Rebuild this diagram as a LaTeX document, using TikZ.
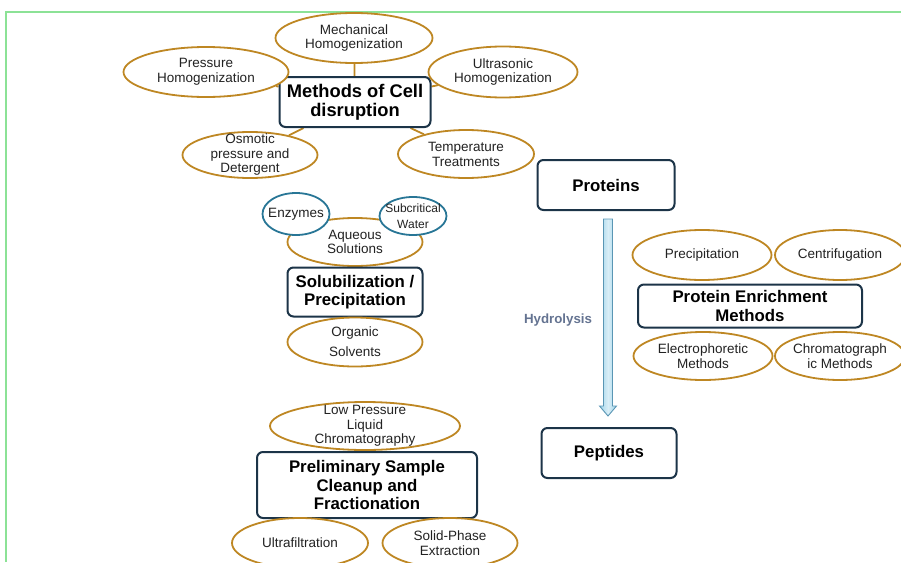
\documentclass[tikz,border=0pt]{standalone}
\usepackage{fontspec}
\setmainfont{Liberation Sans}
\usetikzlibrary{shapes.geometric,calc,backgrounds}
\definecolor{grn}{RGB}{140,226,150}
\definecolor{ochre}{RGB}{190,135,35}
\definecolor{tealb}{RGB}{40,118,150}
\definecolor{navy}{RGB}{28,52,72}
\definecolor{txt}{RGB}{34,34,34}
\definecolor{hyd}{RGB}{100,115,145}
\definecolor{arrb}{RGB}{90,150,180}
\definecolor{arrf}{RGB}{160,212,234}
\begin{document}
\begin{tikzpicture}[x=1pt,y=-1pt,
  ov/.style={ellipse, draw=ochre, line width=1.8pt, fill=white, inner sep=0pt},
  bov/.style={ov, draw=tealb},
  et/.style={font=\fontsize{13.5}{14.5}\selectfont, text=txt, align=center, inner sep=0pt},
  bx/.style={rectangle, rounded corners=6pt, draw=navy, line width=2pt, fill=white, align=center, text=black,
             font=\fontsize{16.8}{18.5}\selectfont\bfseries, inner sep=0pt},
  link/.style={draw=ochre, line width=1.8pt}]
\useasboundingbox (0,0) rectangle (901,562);
\draw[grn, line width=2.2pt] (6,562) -- (6,12) -- (901,12);

% Methods of cell disruption
\node[bx, minimum width=151, minimum height=50, font=\fontsize{18.3}{19}\selectfont\bfseries] (cell) at (355,102) {Methods of Cell\\disruption};
\node[ov, minimum width=157, minimum height=50, label={[et]center:Mechanical\\Homogenization}] (mech) at (354,38) {};
\node[ov, minimum width=165, minimum height=50, label={[et]center:Pressure\\Homogenization}] (press) at (206,72) {};
\node[ov, minimum width=149, minimum height=51, label={[et]center:Ultrasonic\\Homogenization}] (ultra) at (503,72) {};
\node[ov, minimum width=135, minimum height=46, label={[et]center:Osmotic\\pressure and\\Detergent}] (osm) at (250,155) {};
\node[ov, minimum width=136, minimum height=48, label={[et, font=\fontsize{13.5}{15}\selectfont]center:Temperature\\Treatments}] (temp) at (466,154) {};
\begin{scope}[on background layer]
  \draw[link] (cell) -- (mech);
  \draw[link] (cell) -- (press);
  \draw[link] (cell) -- (ultra);
  \draw[link] (cell) -- (osm);
  \draw[link] (cell) -- (temp);
\end{scope}

% Solubilization / Precipitation
\node[ov, minimum width=135, minimum height=48, label={[et]center:Aqueous\\Solutions}] (aq) at (355,242) {};
\node[bov, minimum width=67, minimum height=42, label={[et]center:Enzymes}] (enz) at (296,214) {};
\node[bov, minimum width=67, minimum height=38, label={[et, font=\fontsize{12}{16}\selectfont]center:Subcritical\\Water}] (sub) at (413,216) {};
\node[bx, minimum width=135, minimum height=49] (sol) at (355,292) {Solubilization /\\Precipitation};
\node[ov, minimum width=135, minimum height=49, label={[et, font=\fontsize{13.5}{20}\selectfont]center:Organic\\Solvents}] (org) at (355,342) {};

% Preliminary sample cleanup
\node[ov, minimum width=190, minimum height=48, label={[et]center:Low Pressure\\Liquid\\Chromatography}] (lplc) at (365,426) {};
\node[bx, minimum width=220, minimum height=66] (prelim) at (367,485) {Preliminary Sample\\Cleanup and\\Fractionation};
\node[ov, minimum width=136, minimum height=50, label={[et]center:Ultrafiltration}] (uf) at (300,543) {};
\node[ov, minimum width=135, minimum height=50, label={[et]center:Solid-Phase\\Extraction}] (spe) at (450,543) {};

% Proteins -> Peptides
\node[bx, minimum width=137, minimum height=50] (prot) at (606,185) {Proteins};
\node[bx, minimum width=135, minimum height=50] (pep) at (609,453) {Peptides};
\coordinate (at) at ($(pep.north |- prot.south)+(-1,8)$);
\coordinate (ab) at ($(pep.north)+(-1,-11)$);
\draw[arrb, line width=0.9pt, left color=arrf, right color=arrf, middle color=white!60!arrf]
  ($(at)+(-4.5,0)$) -- ($(at)+(4.5,0)$) -- ($(ab)+(4.5,-10)$) -- ($(ab)+(8.5,-10)$) -- (ab)
  -- ($(ab)+(-8.5,-10)$) -- ($(ab)+(-4.5,-10)$) -- cycle;
\node[font=\fontsize{13.3}{15}\selectfont\bfseries, text=hyd, inner sep=0pt] (hydl) at (558,320) {Hydrolysis};

% Protein enrichment methods
\node[bx, minimum width=224, minimum height=43] (pem) at (750,306) {Protein Enrichment\\Methods};
\node[ov, minimum width=139, minimum height=50, label={[et]center:Precipitation}] (prec) at (702,255) {};
\node[ov, minimum width=130, minimum height=50, label={[et]center:Centrifugation}] (cent) at (840,255) {};
\node[ov, minimum width=139, minimum height=48, label={[et]center:Electrophoretic\\Methods}] (elec) at (703,356) {};
\node[ov, minimum width=130, minimum height=48, label={[et]center:Chromatograph\\ic Methods}] (chrom) at (840,356) {};
\end{tikzpicture}
\end{document}
